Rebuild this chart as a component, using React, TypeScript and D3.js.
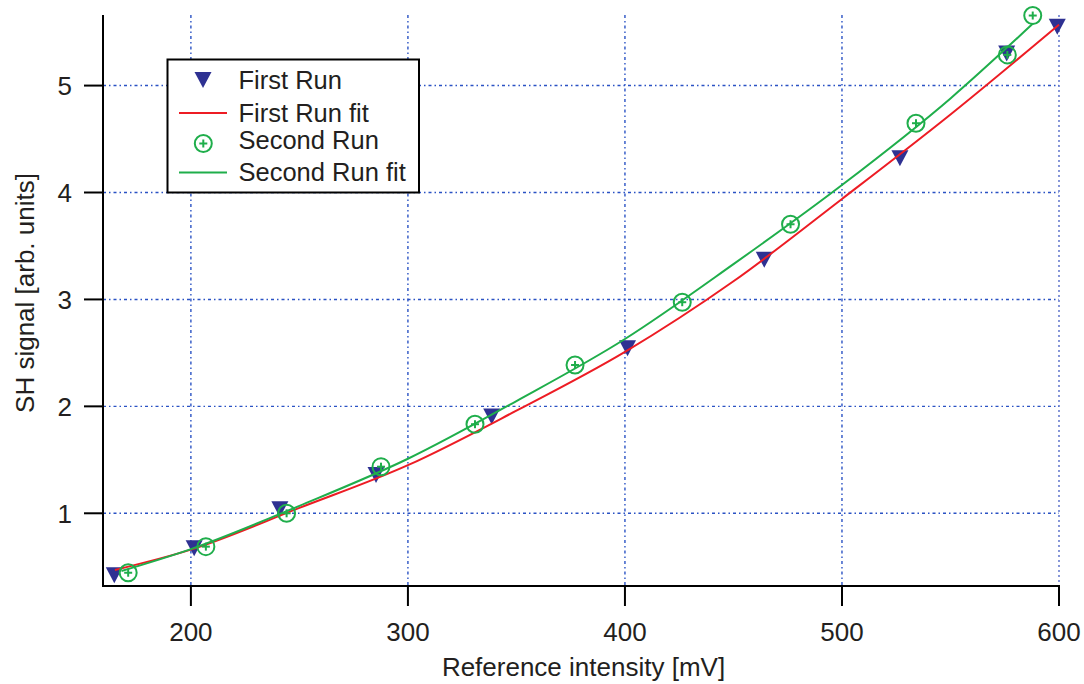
import React from "react";
import * as d3 from "d3";

// ---- data ----
const firstRunX = [164.7, 201.5, 241.0, 285.3, 338.6, 401.2, 464.2, 526.7, 575.9, 599.2];
const firstRunY = [0.42, 0.673, 1.037, 1.358, 1.904, 2.543, 3.37, 4.32, 5.30, 5.55];

const secondRunX = [171.1, 206.9, 244.1, 287.6, 330.9, 377.0, 426.4, 476.3, 534.1, 576.2, 587.9];
const secondRunY = [0.444, 0.688, 1.0, 1.436, 1.833, 2.387, 2.974, 3.703, 4.648, 5.287, 5.655];

const firstFitX = [165, 200, 250, 300, 350, 400, 450, 500, 550, 600];
const firstFitY = [0.47, 0.66, 1.05, 1.45, 1.96, 2.51, 3.17, 3.94, 4.73, 5.57];

const secondFitX = [168, 200, 250, 300, 350, 400, 450, 500, 550, 588];
const secondFitY = [0.46, 0.665, 1.07, 1.51, 2.05, 2.63, 3.33, 4.07, 4.88, 5.58];

const xTicks = [200, 300, 400, 500, 600];
const yTicks = [1, 2, 3, 4, 5];

const legendLabels = ["First Run", "First Run fit", "Second Run", "Second Run fit"];

const NAVY = "#2e3192";
const RED = "#ed1c24";
const GREEN = "#1fae4b";
const GRID = "#2a52c4";
const TEXT = "#231f20";
const FONT = "'Liberation Sans', Arial, Helvetica, sans-serif";

export default function App() {
  const left = 103, right = 1059, top = 15, bottom = 586;
  const x = d3.scaleLinear().domain([159.5, 600]).range([left, right]);
  const y = d3.scaleLinear().domain([0.32, 5.66]).range([bottom, top]);

  const line = d3
    .line<[number, number]>()
    .x((d) => x(d[0]))
    .y((d) => y(d[1]))
    .curve(d3.curveMonotoneX);

  const firstFit = firstFitX.map((v, i) => [v, firstFitY[i]] as [number, number]);
  const secondFit = secondFitX.map((v, i) => [v, secondFitY[i]] as [number, number]);

  const tri = (cx: number, cy: number) =>
    `M${cx - 8.5},${cy - 8}L${cx + 8.5},${cy - 8}L${cx},${cy + 8}Z`;

  const circleMarker = (cx: number, cy: number, key: string) => (
    <g key={key}>
      <circle cx={cx} cy={cy} r={8.5} fill="none" stroke={GREEN} strokeWidth={2} />
      <line x1={cx - 4} x2={cx + 4} y1={cy} y2={cy} stroke={GREEN} strokeWidth={2} />
      <line x1={cx} x2={cx} y1={cy - 4} y2={cy + 4} stroke={GREEN} strokeWidth={2} />
    </g>
  );

  const legendRows = [80, 113, 143.5, 172.5];
  const legendBaselines = [89, 121.5, 149, 181];

  return (
    <svg
      width={1084}
      height={684}
      style={{ position: "absolute", left: 0, top: 0, background: "#fff" }}
      fontFamily={FONT}
    >
      {/* grid */}
      {xTicks.map((t) => (
        <line
          key={"gx" + t}
          x1={x(t)}
          x2={x(t)}
          y1={top}
          y2={bottom}
          stroke={t === 600 ? "#8797d8" : GRID}
          strokeWidth={t === 600 ? 2 : 1.4}
          strokeDasharray={t === 600 ? "2,3" : "3,3,1.5,3"}
        />
      ))}
      {yTicks.map((t) => (
        <line
          key={"gy" + t}
          x1={left}
          x2={right}
          y1={y(t)}
          y2={y(t)}
          stroke={GRID}
          strokeWidth={1.4}
          strokeDasharray="3,3,1.5,3"
        />
      ))}

      {/* axes */}
      <line x1={left} x2={left} y1={top} y2={bottom + 1} stroke="#000" strokeWidth={2} />
      <line x1={left - 1} x2={right + 1} y1={bottom} y2={bottom} stroke="#000" strokeWidth={2} />
      {yTicks.map((t) => (
        <g key={"yt" + t}>
          <line x1={left - 19} x2={left} y1={y(t)} y2={y(t)} stroke="#000" strokeWidth={2} />
          <text
            x={72}
            y={y(t)}
            dy="0.36em"
            textAnchor="end"
            fontSize={26}
            fill={TEXT}
          >
            {t}
          </text>
        </g>
      ))}
      {xTicks.map((t) => (
        <g key={"xt" + t}>
          <line x1={x(t)} x2={x(t)} y1={bottom} y2={bottom + 20} stroke="#000" strokeWidth={2} />
          <text x={x(t)} y={641} textAnchor="middle" fontSize={26} fill={TEXT}>
            {t}
          </text>
        </g>
      ))}

      {/* axis titles */}
      <text
        transform="translate(34,293) rotate(-90)"
        textAnchor="middle"
        fontSize={26}
        fill={TEXT}
      >
        SH signal [arb. units]
      </text>
      <text x={583.5} y={675.5} textAnchor="middle" fontSize={26} fill={TEXT}>
        Reference intensity [mV]
      </text>

      {/* first run markers */}
      {firstRunX.map((v, i) => (
        <path key={"fr" + i} d={tri(x(v), y(firstRunY[i]))} fill={NAVY} />
      ))}

      {/* fits */}
      <path d={line(firstFit) || ""} fill="none" stroke={RED} strokeWidth={2} />

      {/* second run markers */}
      {secondRunX.map((v, i) => circleMarker(x(v), y(secondRunY[i]), "sr" + i))}

      <path d={line(secondFit) || ""} fill="none" stroke={GREEN} strokeWidth={2} />

      {/* legend */}
      <rect x={167.5} y={59.5} width={251.5} height={133} fill="#fff" stroke="#000" strokeWidth={2} />
      <path d={tri(203, legendRows[0])} fill={NAVY} />
      <line x1={179} x2={227} y1={legendRows[1]} y2={legendRows[1]} stroke={RED} strokeWidth={2} />
      {circleMarker(203.3, legendRows[2], "lc")}
      <line x1={179} x2={227} y1={legendRows[3]} y2={legendRows[3]} stroke={GREEN} strokeWidth={2} />
      {legendLabels.map((s, i) => (
        <text key={"lg" + i} x={238.5} y={legendBaselines[i]} fontSize={25.5} fill={TEXT}>
          {s}
        </text>
      ))}
    </svg>
  );
}
